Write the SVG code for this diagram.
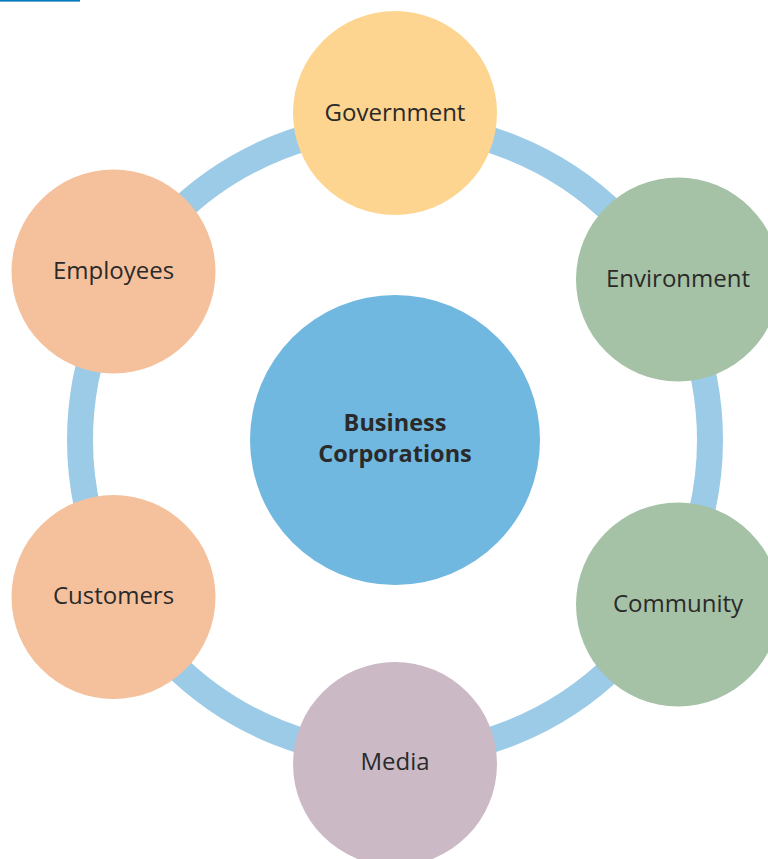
<svg xmlns="http://www.w3.org/2000/svg" width="768" height="859" viewBox="0 0 768 859">
<style>
.lbl{font-family:"Open Sans","Noto Sans","DejaVu Sans",sans-serif;font-size:24px;fill:#2a2a2a;text-anchor:middle}
.bold{font-weight:bold;font-size:23.5px}
</style>
<rect x="0" y="0" width="768" height="859" fill="#ffffff"/>
<rect x="0" y="0" width="80" height="1.6" fill="#0078bd"/>
<g id="connectors">
<circle cx="395" cy="440" r="315" fill="none" stroke="#9bcbe7" stroke-width="26"/>
</g>
<g id="center">
<circle cx="395" cy="440" r="145" fill="#70b8df"/>
<text class="lbl bold" x="395" y="431">Business</text>
<text class="lbl bold" x="395" y="462">Corporations</text>
</g>
<g id="government">
<circle cx="395" cy="113" r="102" fill="#fdd590"/>
<text class="lbl" x="395" y="121">Government</text>
</g>
<g id="environment">
<circle cx="678" cy="279.5" r="102" fill="#a5c2a6"/>
<text class="lbl" x="678" y="287">Environment</text>
</g>
<g id="community">
<circle cx="678" cy="604.5" r="102" fill="#a5c2a6"/>
<text class="lbl" x="678" y="612">Community</text>
</g>
<g id="media">
<circle cx="395" cy="764" r="102" fill="#cbbac6"/>
<text class="lbl" x="395" y="770">Media</text>
</g>
<g id="customers">
<circle cx="113.5" cy="597" r="102" fill="#f5c19d"/>
<text class="lbl" x="113.5" y="604">Customers</text>
</g>
<g id="employees">
<circle cx="113.5" cy="271.5" r="102" fill="#f5c19d"/>
<text class="lbl" x="113.5" y="279">Employees</text>
</g>
</svg>
